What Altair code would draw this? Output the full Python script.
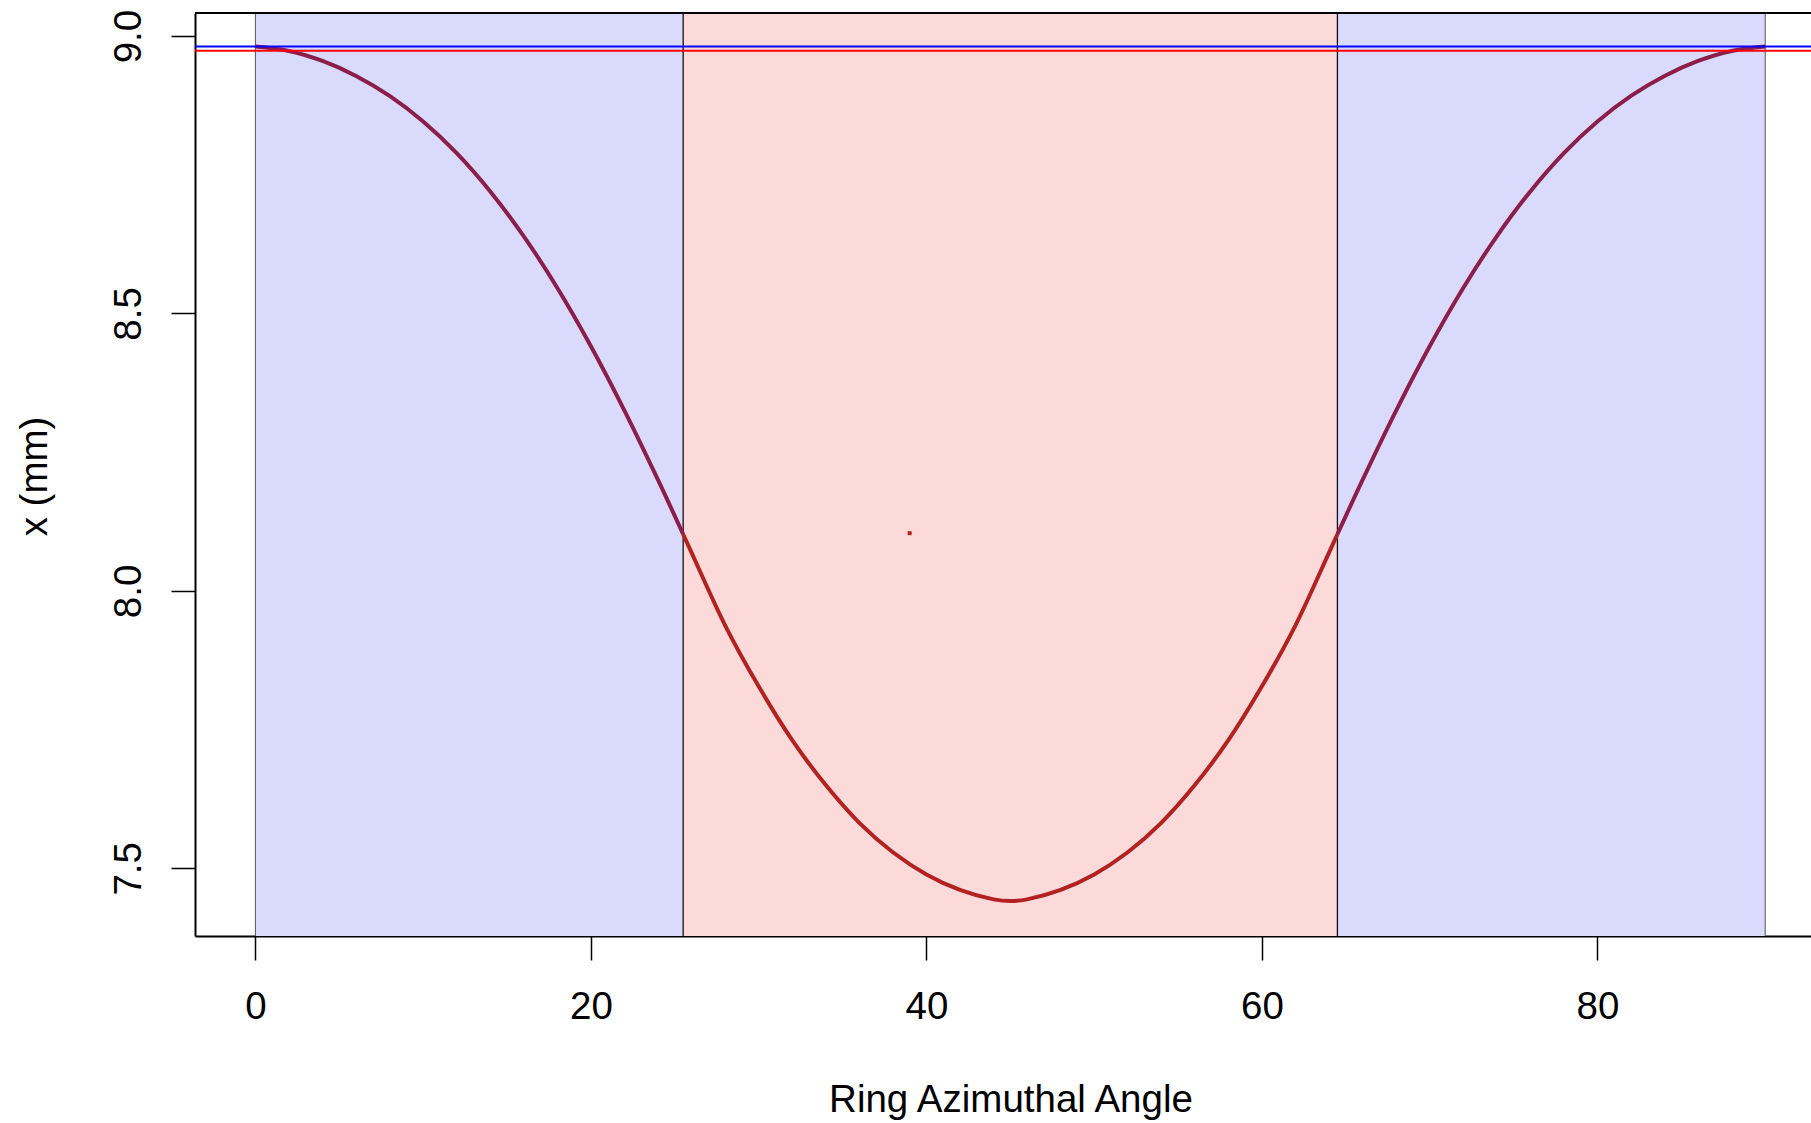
import altair as alt
import pandas as pd

# ---- data ----
angle_left_blue = [0, 2, 4, 6, 8, 10, 12, 14, 16, 18, 20, 22, 24, 25.5]
x_left_blue = [8.981, 8.973, 8.955, 8.928, 8.892, 8.846, 8.789, 8.720, 8.639, 8.546, 8.441, 8.325, 8.200, 8.102]

angle_red = [25.5, 26, 28, 30, 32, 34, 36, 38, 40, 42, 44, 45, 46, 48, 50, 52, 54, 56, 58, 60, 62, 64, 64.5]
x_red = [8.102, 8.069, 7.938, 7.828, 7.731, 7.650, 7.582, 7.529, 7.489, 7.461, 7.444, 7.441,
         7.444, 7.461, 7.489, 7.529, 7.582, 7.650, 7.731, 7.828, 7.938, 8.069, 8.102]

angle_right_blue = [64.5, 66, 68, 70, 72, 74, 76, 78, 80, 82, 84, 86, 88, 90]
x_right_blue = [8.102, 8.200, 8.325, 8.441, 8.546, 8.639, 8.720, 8.789, 8.846, 8.892, 8.928, 8.955, 8.973, 8.981]

region_start = [0, 25.5, 64.5]
region_end = [25.5, 64.5, 90]
region_kind = ["blue", "red", "blue"]

vline_pos = [0, 25.5, 64.5, 90]
vline_kind = ["edge", "mid", "mid", "edge"]

hline_val = [8.981, 8.9735]
hline_kind = ["blue", "red"]

dot_angle = [39.0]
dot_x = [8.104]

x_ticks = [0, 20, 40, 60, 80]
y_ticks = [7.5, 8.0, 8.5, 9.0]

# ---- layout ----
W, H = 1616, 923
XDOM = [-3.6, 92.73]
YDOM = [7.378, 9.0415]
FONT = "Liberation Sans"
FS = 38.5

curve = pd.DataFrame({
    "angle": angle_left_blue + angle_red + angle_right_blue,
    "x": x_left_blue + x_red + x_right_blue,
    "seg": (["lb"] * len(angle_left_blue) + ["r"] * len(angle_red) + ["rb"] * len(angle_right_blue)),
    "kind": (["blue"] * len(angle_left_blue) + ["red"] * len(angle_red) + ["blue"] * len(angle_right_blue)),
})
regions = pd.DataFrame({"a0": region_start, "a1": region_end, "kind": region_kind})
vlines = pd.DataFrame({"a": vline_pos, "kind": vline_kind})
hlines = pd.DataFrame({"v": hline_val, "kind": hline_kind})
dots = pd.DataFrame({"angle": dot_angle, "x": dot_x})

xscale = alt.Scale(domain=XDOM, nice=False, zero=False)
yscale = alt.Scale(domain=YDOM, nice=False, zero=False)

xaxis = alt.Axis(values=x_ticks, title="Ring Azimuthal Angle", grid=False, domain=True,
                 domainColor="black", domainWidth=2, tickColor="black", tickWidth=1.5, tickSize=24,
                 labelFont=FONT, labelFontSize=FS, labelColor="black", labelPadding=28,
                 labelBaseline="top", labelFlush=False, labelOverlap=False,
                 titleFont=FONT, titleFontSize=FS, titleFontWeight="normal", titleColor="black",
                 titleX=815.5, titleY=175, titleBaseline="alphabetic", titleAlign="center", titleAnchor="start")
yaxis = alt.Axis(values=y_ticks, title="x (mm)", grid=False, domain=True, format=".1f",
                 domainColor="black", domainWidth=2, tickColor="black", tickWidth=1.5, tickSize=24,
                 labelFont=FONT, labelFontSize=FS, labelColor="black", labelPadding=31,
                 labelAngle=270, labelAlign="center", labelBaseline="alphabetic",
                 labelFlush=False, labelOverlap=False,
                 titleFont=FONT, titleFontSize=FS, titleFontWeight="normal", titleColor="black",
                 titleAngle=270, titleX=-148.5, titleY=463, titleBaseline="alphabetic",
                 titleAlign="center", titleAnchor="start")

rects = alt.Chart(regions).mark_rect(strokeWidth=0).encode(
    x=alt.X("a0:Q", scale=xscale, axis=xaxis),
    x2="a1:Q",
    y=alt.value(0), y2=alt.value(H),
    color=alt.Color("kind:N", scale=alt.Scale(domain=["blue", "red"], range=["#DADAFC", "#FCDADA"]), legend=None),
)

vrules = alt.Chart(vlines).mark_rule().encode(
    x=alt.X("a:Q", scale=xscale),
    y=alt.value(0), y2=alt.value(H),
    color=alt.Color("kind:N", scale=alt.Scale(domain=["edge", "mid"], range=["#555555", "#111111"]), legend=None),
    strokeWidth=alt.StrokeWidth("kind:N", scale=alt.Scale(domain=["edge", "mid"], range=[1, 1.3]), legend=None),
)

line = alt.Chart(curve).mark_line(strokeWidth=4, interpolate="catmull-rom").encode(
    x=alt.X("angle:Q", scale=xscale),
    y=alt.Y("x:Q", scale=yscale, axis=yaxis),
    detail="seg:N",
    color=alt.Color("kind:N", scale=alt.Scale(domain=["blue", "red"], range=["#8B1F4A", "#B22222"]), legend=None),
)

hrules = alt.Chart(hlines).mark_rule(strokeWidth=2).encode(
    y=alt.Y("v:Q", scale=yscale),
    x=alt.value(0), x2=alt.value(W),
    color=alt.Color("kind:N", scale=alt.Scale(domain=["blue", "red"], range=["#0000FF", "#FF0000"]), legend=None),
)

dot = alt.Chart(dots).mark_square(size=16, opacity=1, color="#B22222").encode(
    x=alt.X("angle:Q", scale=xscale),
    y=alt.Y("x:Q", scale=yscale),
)

top_border = alt.Chart(dots).mark_rule(color="black", strokeWidth=2).encode(
    x=alt.value(0), x2=alt.value(W), y=alt.value(0)
)

chart = alt.layer(rects, vrules, line, hrules, dot, top_border).resolve_scale(
    color="independent", strokeWidth="independent"
).properties(
    width=W, height=H,
    padding={"left": 195, "top": 13, "right": 0, "bottom": 187},
    autosize=alt.AutoSizeParams(type="none"),
    background="white",
).configure_view(strokeWidth=0)

chart.save("out.html", embed_options={"renderer": "svg", "actions": False})
